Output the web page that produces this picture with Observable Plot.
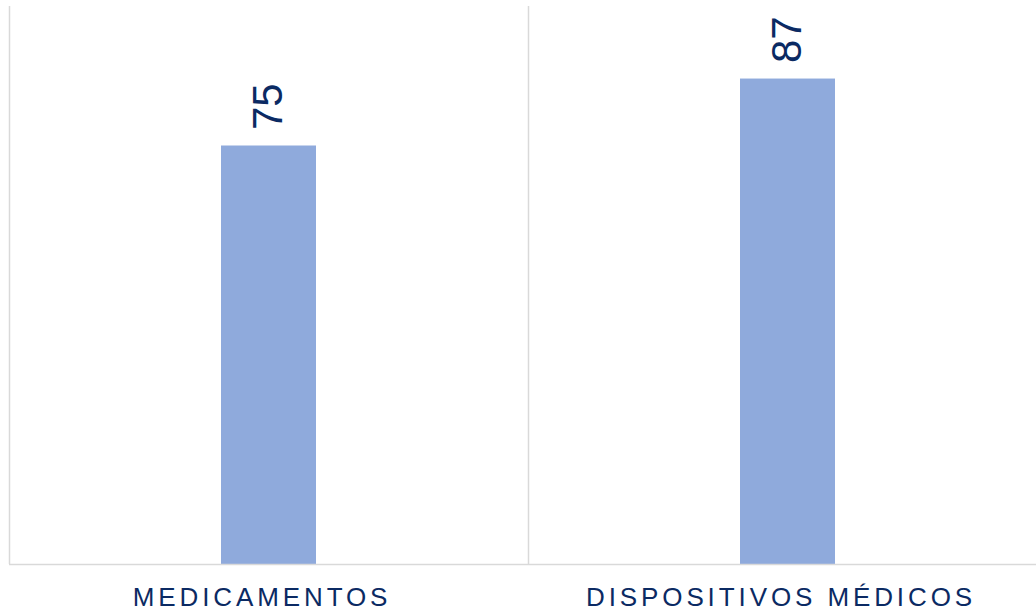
<!DOCTYPE html>
<html>
<head>
<meta charset="utf-8">
<script src="https://cdn.jsdelivr.net/npm/d3@7"></script>
<script src="https://cdn.jsdelivr.net/npm/@observablehq/plot@0.6"></script>
<style>
  html, body { margin: 0; padding: 0; background: #fff; overflow: hidden; }
  #chart svg { display: block; }
  #chart g[aria-label="x-axis tick label"] text { letter-spacing: 3.9px; }
</style>
</head>
<body>
<div id="chart"></div>
<script>
const categories = ["MEDICAMENTOS", "DISPOSITIVOS MÉDICOS"];
const values = [75, 87];

const data = categories.map((c, i) => ({category: c, value: values[i]}));

const W = 1036, H = 613;
const xRange = [9, 1047];
const band = (xRange[1] - xRange[0]) / categories.length;
const navy = "#0b2a63";
const grid = "#d9d9d9";

const chart = Plot.plot({
  width: W,
  height: H,
  marginTop: 6,
  marginBottom: 49,
  marginLeft: 9,
  marginRight: 0,
  style: {fontFamily: "'Liberation Sans', Arial, sans-serif", background: "#fff", overflow: "hidden"},
  x: {domain: categories, range: xRange, padding: 0, label: null},
  y: {domain: [0, 100], axis: null},
  marks: [
    Plot.ruleX(categories, {x: d => d, dx: -band / 2, y1: 0, y2: 100, stroke: grid, strokeWidth: 1.5}),
    Plot.barY(data, {x: "category", y: "value", fill: "#8faadc", insetLeft: 212, insetRight: 212}),
    Plot.ruleY([0], {stroke: grid, strokeWidth: 1.5}),
    Plot.text(data, {x: "category", y: "value", text: d => String(d.value), rotate: -90, textAnchor: "start", lineAnchor: "middle", dy: -16, fontSize: 42, fill: navy}),
    Plot.axisX({tickSize: 0, tickPadding: 23, fontSize: 26, dx: -7, fill: navy})
  ]
});
document.getElementById("chart").appendChild(chart);
</script>
</body>
</html>
